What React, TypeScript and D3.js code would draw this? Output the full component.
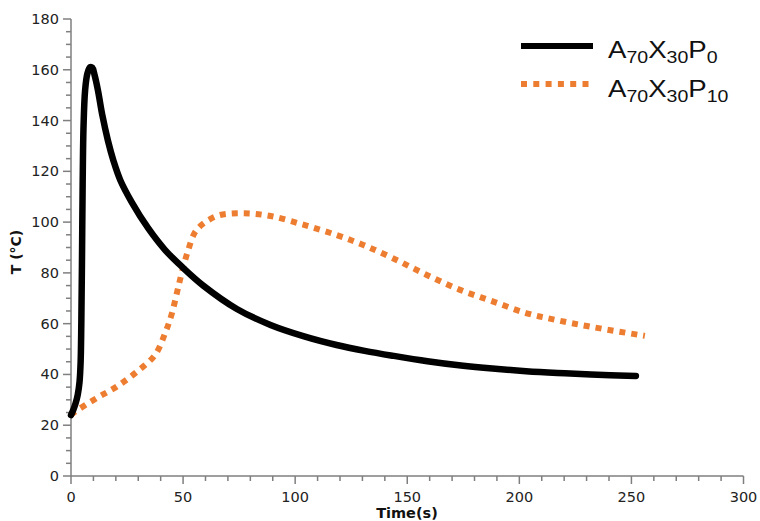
import React from "react";
import * as d3 from "d3";

const p0Time = [0, 1, 2, 3, 3.8, 4.3, 4.6, 4.9, 5.2, 5.6, 6.3, 7.3, 8.5, 9.5, 10.5, 12, 14, 16.5, 19, 22, 27, 34.5, 42, 50, 59, 74, 89, 104, 118.5, 131, 144, 159, 174, 188, 203, 217, 232, 252];
const p0Temp = [24, 26, 28.5, 32, 37, 45, 60, 85, 115, 138, 152, 158.5, 161, 160.8, 158, 152, 142, 132, 124, 116.5, 108, 97.5, 89, 82, 75, 65.8, 59.5, 55, 51.6, 49.3, 47.3, 45.2, 43.5, 42.3, 41.3, 40.6, 40, 39.4];

const p10Time = [0, 1, 11.5, 20.4, 29.3, 37.5, 42, 45, 47.9, 50.1, 52.3, 55, 58, 61.3, 66.5, 77, 89, 104, 118.5, 130.4, 143.8, 158.7, 173.6, 188.4, 203.3, 216.7, 233, 256];
const p10Temp = [24, 24.8, 30.7, 35.2, 41, 47.7, 56.3, 64, 74.6, 82.4, 89, 95.5, 98.7, 100.8, 102.8, 103.5, 102.4, 98.9, 94.9, 91, 85.7, 79.2, 73.3, 68.7, 64.1, 61.4, 58.6, 55.2];

const xTicks = [0, 50, 100, 150, 200, 250, 300];
const yTicks = [0, 20, 40, 60, 80, 100, 120, 140, 160, 180];

const W = 760, H = 521;
const x = d3.scaleLinear().domain([0, 300]).range([71, 743.5]);
const y = d3.scaleLinear().domain([0, 180]).range([476, 19]);

const line = d3.line<[number, number]>().x(d => x(d[0])).y(d => y(d[1])).curve(d3.curveCatmullRom.alpha(0.5));
const p0 = p0Time.map((t, i) => [t, p0Temp[i]] as [number, number]);
const p10 = p10Time.map((t, i) => [t, p10Temp[i]] as [number, number]);

const axisColor = "#7f7f7f";
const orange = "#ED7D31";
const tickFont = "'DejaVu Sans', Verdana, sans-serif";
const legendFont = "'Liberation Sans', Arial, sans-serif";

function LegendLabel({ bx, by, subs }: { bx: number; by: number; subs: string[] }) {
  const mains = ["A", "X", "P"];
  return (
    <text transform={`translate(${bx},${by}) scale(1.15,1)`} fontFamily={legendFont} fontSize={24} fill="#111">
      {mains.map((m, i) => (
        <React.Fragment key={i}>
          <tspan dy={i === 0 ? 0 : -5}>{m}</tspan>
          <tspan fontSize={17} dy={5}>{subs[i]}</tspan>
        </React.Fragment>
      ))}
    </text>
  );
}

export default function App() {
  const xMinor = d3.range(0, 301, 10).filter(v => v % 50 !== 0);
  const yMinor = d3.range(0, 181, 5).filter(v => v % 20 !== 0);
  return (
    <svg width={W} height={H} style={{ position: "absolute", left: 0, top: 0, background: "#fff" }}>
      <line x1={x(0)} x2={x(300)} y1={y(0)} y2={y(0)} stroke={axisColor} strokeWidth={1.5} />
      <line x1={x(0)} x2={x(0)} y1={y(0)} y2={y(180)} stroke={axisColor} strokeWidth={1.5} />
      {xTicks.map(v => (
        <g key={"xt" + v}>
          <line x1={x(v)} x2={x(v)} y1={y(0)} y2={y(0) + 8} stroke={axisColor} strokeWidth={1.5} />
          <text x={x(v)} y={502} textAnchor="middle" fontFamily={tickFont} fontSize={14.5} fill="#222">{v}</text>
        </g>
      ))}
      {xMinor.map(v => (
        <line key={"xm" + v} x1={x(v)} x2={x(v)} y1={y(0)} y2={y(0) + 5} stroke={axisColor} strokeWidth={1.5} />
      ))}
      {yTicks.map(v => (
        <g key={"yt" + v}>
          <line x1={x(0) - 8} x2={x(0)} y1={y(v)} y2={y(v)} stroke={axisColor} strokeWidth={1.5} />
          <text x={59} y={y(v) + 5} textAnchor="end" fontFamily={tickFont} fontSize={14.5} fill="#222">{v}</text>
        </g>
      ))}
      {yMinor.map(v => (
        <line key={"ym" + v} x1={x(0) - 5} x2={x(0)} y1={y(v)} y2={y(v)} stroke={axisColor} strokeWidth={1.5} />
      ))}
      <text x={407} y={518} textAnchor="middle" fontFamily={tickFont} fontWeight="bold" fontSize={14.5} fill="#111">Time(s)</text>
      <text transform={`translate(21,252) rotate(-90)`} textAnchor="middle" fontFamily={tickFont} fontWeight="bold" fontSize={14} fill="#111">T (°C)</text>
      <path d={line(p10) || ""} fill="none" stroke={orange} strokeWidth={6} strokeDasharray="6 6" />
      <path d={line(p0) || ""} fill="none" stroke="#000" strokeWidth={6.5} strokeLinecap="round" strokeLinejoin="round" />
      <line x1={521} x2={593} y1={46} y2={46} stroke="#000" strokeWidth={6} />
      <LegendLabel bx={608} by={58} subs={["70", "30", "0"]} />
      <line x1={521} x2={590} y1={84} y2={84} stroke={orange} strokeWidth={6} strokeDasharray="6 6.3" />
      <LegendLabel bx={608} by={97} subs={["70", "30", "10"]} />
    </svg>
  );
}
